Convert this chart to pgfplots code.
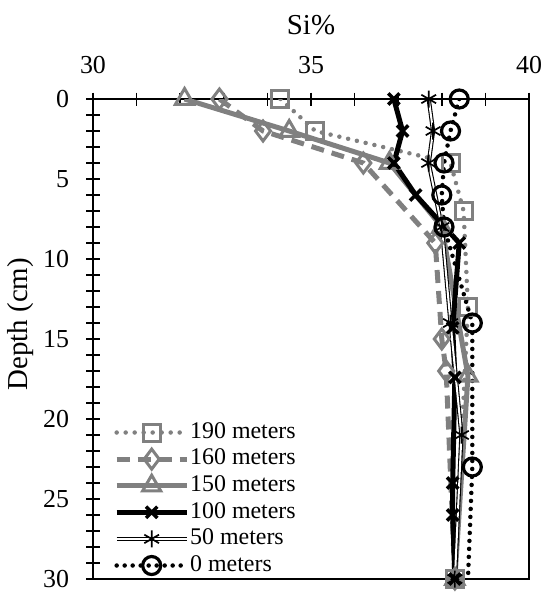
\documentclass[border=0pt]{standalone}
\usepackage{fontspec}
\setmainfont{Liberation Serif}
\usepackage{pgfplots}
\pgfplotsset{compat=1.18}
\definecolor{mgray}{RGB}{128,128,128}
\begin{document}
\begin{tikzpicture}
\begin{axis}[
 scale only axis, width=436bp, height=480bp,
 xmin=30, xmax=40, ymin=0, ymax=30, y dir=reverse,
 xtick={30,35,40}, ytick={0,5,...,30},
 minor x tick num=4, minor y tick num=4,
 xtick pos=right, xticklabel pos=right, ytick pos=left,
 tick align=center, major tick length=13bp, minor tick length=13bp,
 every tick/.style={black, line width=1.5bp},
 axis line style={line width=2.5bp},
 every tick label/.append style={font=\fontsize{26}{30}\selectfont},
 every axis label/.append style={font=\fontsize{29}{33}\selectfont},
 /pgf/number format/assume math mode=true,
 xticklabel style={yshift=15bp},
 yticklabel style={xshift=-14bp},
 xlabel={Si\%}, ylabel={Depth (cm)},
 xlabel style={at={(axis description cs:0.5,1)}, anchor=base, yshift=65bp},
 ylabel style={at={(axis description cs:-0.167,0.531)}, anchor=center},
 legend style={at={(0,0)}, anchor=south west, draw=none, fill=none,
   font=\fontsize{24}{28}\selectfont, row sep=0pt, xshift=18bp, yshift=-2bp,
   nodes={inner sep=1bp, text height=18bp, text depth=6.6bp},
   /tikz/every odd column/.append style={xshift=0bp}},
 legend cell align=left,
 legend image code/.code={\draw[mark repeat=2,mark phase=2] plot coordinates {(0bp,0bp)(35bp,0bp)(70bp,0bp)};},
 legend style={/tikz/every even column/.append style={column sep=3bp}},
]
\addplot[mgray, line width=4.5bp, dash pattern=on 0bp off 9bp, line cap=round, mark=square, mark size=8.5bp, mark options={solid, line width=3bp}]
 coordinates {(34.3,0) (35.1,2) (38.2,4) (38.5,7) (38.6,13) (38.3,30)};
\addlegendentry{190 meters}
\addplot[mgray, line width=5bp, dash pattern=on 13bp off 8bp, mark=diamond, mark size=10bp, mark options={solid, line width=3bp}]
 coordinates {(32.9,0) (33.9,2) (36.2,4) (37.85,9) (38.0,15) (38.1,17) (38.3,30)};
\addlegendentry{160 meters}
\addplot[mgray, line width=5bp, mark=triangle, mark size=10.5bp, mark options={solid, line width=3bp}]
 coordinates {(32.1,0) (34.5,2) (36.8,4) (38.0,8) (38.6,17.3) (38.3,30)};
\addlegendentry{150 meters}
\addplot[black, line width=5bp, mark=x, mark size=8bp, mark options={solid, line width=3.5bp}]
 coordinates {(36.9,0) (37.1,2) (36.9,4) (37.4,6) (38.4,9) (38.25,14.3) (38.3,17.4) (38.25,24) (38.25,26) (38.3,30)};
\addlegendentry{100 meters}
\addplot[black, line width=1.1bp, double=white, double distance=2bp, mark=asterisk, mark size=8.5bp, mark options={solid, line width=1.7bp}]
 coordinates {(37.7,0) (37.8,2) (37.7,4) (38.0,8) (38.2,14) (38.45,21) (38.3,30)};
\addlegendentry{50 meters}
\addplot[black, line width=4.5bp, dash pattern=on 0bp off 8bp, line cap=round, mark=o, mark size=9bp, mark indices={1,2,3,4,5,6,7}, mark options={solid, line width=3.2bp},
 legend image code/.code={\draw[mark indices={2}] plot coordinates {(0bp,0bp)(35bp,0bp)(70bp,0bp)};}]
 coordinates {(38.4,0) (38.2,2) (38.05,4) (38.0,6) (38.05,8) (38.7,14) (38.7,23) (38.6,30)};
\addlegendentry{0 meters}
\end{axis}
\path[use as bounding box] ([shift={(-93bp,-16bp)}]current axis.south west) rectangle ([shift={(20bp,99bp)}]current axis.north east);
\end{tikzpicture}
\end{document}
